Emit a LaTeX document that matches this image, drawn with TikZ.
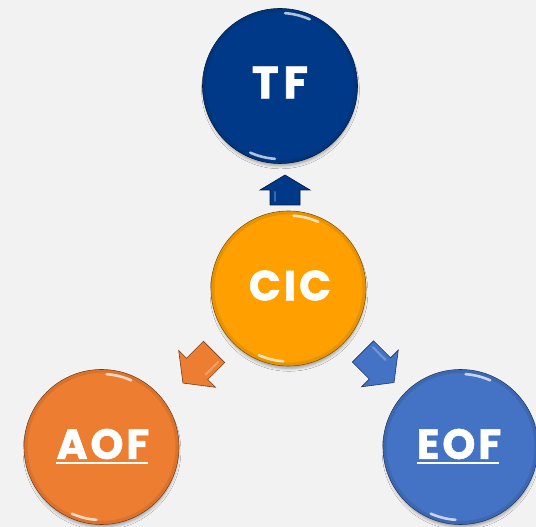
\documentclass[tikz,border=0pt]{standalone}
\usepackage{fontspec}
\setmainfont{Open Sans}
\newfontfamily\ballfont{Poppins}[BoldFeatures={LetterSpace=7, FakeBold=1.4}]
\newfontfamily\wideballfont{Poppins}[BoldFeatures={LetterSpace=11, FakeBold=1.4}]
\usetikzlibrary{shadows.blur}

\definecolor{bgcol}{RGB}{242,242,242}
\definecolor{tfcol}{RGB}{0,57,135}
\definecolor{ciccol}{RGB}{255,160,0}
\definecolor{aofcol}{RGB}{237,125,49}
\definecolor{eofcol}{RGB}{68,114,196}

\tikzset{
  ball/.style={circle, minimum size=155pt, inner sep=0pt,
    fill=#1, draw=#1!50!black, line width=0.6pt,
    blur shadow={shadow xshift=0.5pt, shadow yshift=-4pt, shadow scale=0.98,
      shadow blur radius=3pt, shadow opacity=35}},
  balltext/.style={text=white, inner sep=0pt,
    font=\ballfont\fontsize{42}{46}\bfseries\selectfont},
  widetext/.style={balltext, font=\wideballfont\fontsize{45}{50}\bfseries\selectfont},
  shine/.style={white, line width=2.6pt, line cap=round, opacity=0.7},
  bevel/.style={#1!75!black, line width=3pt, opacity=0.35},
  arrowbody/.style={fill=#1, draw=#1!50!black, line width=0.6pt,
    blur shadow={shadow xshift=0.5pt, shadow yshift=-3pt,
      shadow blur radius=2.5pt, shadow opacity=35}},
  % block arrow pointing along +x: length, head length, head half width, shaft half width
  pics/blockarrow/.style n args={4}{code={
    \path[pic actions] (-#1/2,-#4) -- (#1/2-#2,-#4) -- (#1/2-#2,-#3)
      -- (#1/2,0) -- (#1/2-#2,#3) -- (#1/2-#2,#4) -- (-#1/2,#4) -- cycle;
    \draw[white, opacity=0.25, line width=2pt, line cap=round]
      (-#1/2+4,#4-5) -- (#1/2-#2-2,#4-5);
  }}
}

% decorations of one ball: inner bevel ring and two glints
\newcommand\ballfinish[2]{%
  \draw[bevel=#2] (#1.center) circle (75.5);
  \draw[shine] ([shift={(66:73)}]#1.center) arc[start angle=66, end angle=86, radius=73];
  \draw[shine] ([shift={(246:73)}]#1.center) arc[start angle=246, end angle=266, radius=73];
}

\begin{document}
\begin{tikzpicture}[x=1pt,y=1pt]
  \fill[bgcol] (0,0) rectangle (536,527);
  \useasboundingbox (0,0) rectangle (536,527);

  % the four balls
  \node[ball=tfcol]  (tf)  at (280,441)   {};
  \node[ball=ciccol] (cic) at (288.5,238.5) {};
  \node[ball=aofcol] (aof) at (101.5,80)  {};
  \node[ball=eofcol] (eof) at (460.5,80)  {};

  \ballfinish{tf}{tfcol}
  \ballfinish{cic}{ciccol}
  \ballfinish{aof}{aofcol}
  \ballfinish{eof}{eofcol}

  % labels, set a little above each centre
  \node[widetext] (tftext)  at ([xshift=0pt, yshift=3.5pt]tf.center)  {TF};
  \node[balltext] (cictext) at ([xshift=1.5pt, yshift=3pt]cic.center) {CIC};
  \node[balltext] (aoftext) at ([xshift=1.5pt, yshift=3pt]aof.center) {AOF};
  \node[balltext] (eoftext) at ([xshift=-1.5pt, yshift=3pt]eof.center) {EOF};
  \draw[white, line width=2pt]
    ([yshift=-4.5pt]aoftext.base west) -- ([xshift=-2pt, yshift=-4.5pt]aoftext.base east);
  \draw[white, line width=2pt]
    ([yshift=-4.5pt]eoftext.base west) -- ([xshift=-2pt, yshift=-4.5pt]eoftext.base east);

  % block arrows leaving the centre ball
  \pic[rotate=90,  arrowbody=tfcol]  (uparrow)    at (285,337)   {blockarrow={30}{15}{25}{15}};
  \pic[rotate=225, arrowbody=aofcol] (leftarrow)  at (198.5,159.5) {blockarrow={44}{20}{26}{15}};
  \pic[rotate=-45, arrowbody=eofcol] (rightarrow) at (378.5,160) {blockarrow={44}{20}{26}{15}};
\end{tikzpicture}
\end{document}
